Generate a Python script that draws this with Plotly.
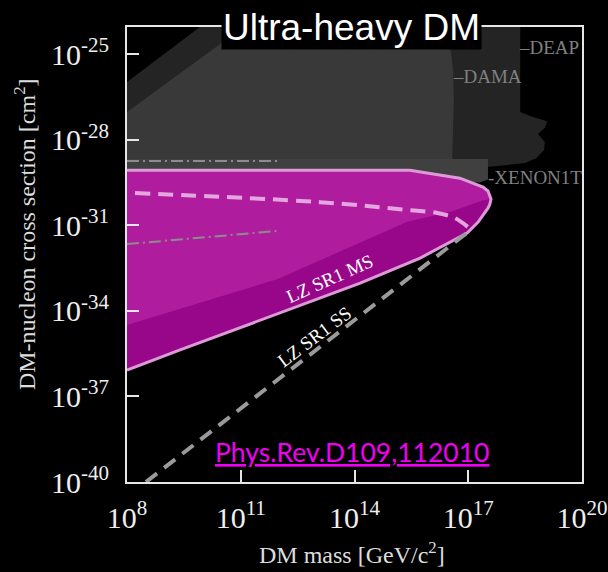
import numpy as np
import plotly.graph_objects as go

# ---- axis ticks (powers of ten) ----
mass_tick_exp = [8, 11, 14, 17, 20]
xsec_tick_exp = [-40, -37, -34, -31, -28, -25]

# ---- exclusion regions: log10(mass / GeV) and log10(sigma / cm^2) ----
deap_log_mass = [8.0, 10.47, 18.37, 18.37, 18.63, 19.08, 19.02, 18.84, 19.02, 19.00, 18.79, 18.50, 17.57, 8.0]
deap_log_xsec = [-25.98, -23.5, -23.5, -27.03, -27.17, -27.35, -27.59, -27.80, -28.08, -28.36, -28.65, -28.82, -28.95, -28.95]

dama_log_mass = [8.0, 11.64, 16.33, 16.39, 16.52, 16.60, 16.62, 16.60, 16.57, 8.0]
dama_log_xsec = [-27.03, -23.5, -23.5, -24.05, -24.68, -25.56, -26.61, -28.01, -28.95, -28.95]

xenon_log_mass = [8.0, 17.52, 17.52, 17.30, 8.0]
xenon_log_xsec = [-28.68, -28.68, -29.40, -29.50, -29.50]

# LZ SR1 multiple-scatter excluded region (outer contour)
ms_log_mass = [8.0, 15.46, 16.78, 17.39, 17.52, 17.60, 17.57, 17.52, 17.26, 16.97, 15.73, 14.15, 9.40, 8.0]
ms_log_xsec = [-29.07, -29.07, -29.35, -29.66, -29.80, -30.08, -30.26, -30.40, -30.89, -31.27, -32.15, -33.03, -35.37, -36.08]

# inner contour separating the upper band of the MS region
ms_inner_log_mass = [17.60, 17.39, 16.60, 15.38, 11.96, 8.0]
ms_inner_log_xsec = [-30.08, -30.12, -30.50, -30.89, -32.89, -34.50]

# LZ SR1 single-scatter limits
ss_upper_log_mass = [8.21, 13.09, 15.46, 16.18, 16.65, 16.99]
ss_upper_log_xsec = [-29.87, -30.19, -30.47, -30.57, -30.75, -31.06]
ss_lower_log_mass = [8.50, 16.99]
ss_lower_log_xsec = [-40.0, -31.24]

# other limits (dash-dot)
dd1_log_mass = [8.0, 11.96]
dd1_log_xsec = [-28.75, -28.75]
dd2_log_mass = [8.0, 11.96]
dd2_log_xsec = [-31.66, -31.20]


def p(v):
    return 10 ** np.array(v, dtype=float)


fig = go.Figure()


def region(lm, lx, color):
    fig.add_trace(go.Scatter(x=p(lm), y=p(lx), mode="lines", fill="toself",
                             fillcolor=color, line=dict(width=0), hoverinfo="skip",
                             showlegend=False))


region(deap_log_mass, deap_log_xsec, "#242424")
region(dama_log_mass, dama_log_xsec, "#393939")
region(xenon_log_mass, xenon_log_xsec, "#404040")

dashdot = dict(color="#8c8c8c", width=2, dash="12px,4px,2px,4px")

fig.add_trace(go.Scatter(x=p(dd1_log_mass), y=p(dd1_log_xsec), mode="lines",
                         line=dashdot, hoverinfo="skip", showlegend=False))

# LZ MS region: lower (darker) fill over full contour, then upper band
region(ms_log_mass, ms_log_xsec, "#98068a")
upper_m = ms_log_mass[:6] + ms_inner_log_mass[1:]
upper_x = ms_log_xsec[:6] + ms_inner_log_xsec[1:]
region(upper_m, upper_x, "#b01c9e")

# dash-dot limit lying inside the MS region
fig.add_trace(go.Scatter(x=p(dd2_log_mass), y=p(dd2_log_xsec), mode="lines",
                         line=dashdot, hoverinfo="skip", showlegend=False))

# MS contour outline
fig.add_trace(go.Scatter(x=p(ms_log_mass), y=p(ms_log_xsec), mode="lines",
                         line=dict(color="#dc9ad6", width=3), hoverinfo="skip",
                         showlegend=False))

# SS limits
fig.add_trace(go.Scatter(x=p(ss_upper_log_mass), y=p(ss_upper_log_xsec), mode="lines",
                         line=dict(color="#e4a6de", width=4, dash="15px,8px", shape="spline"),
                         hoverinfo="skip", showlegend=False))
fig.add_trace(go.Scatter(x=p(ss_lower_log_mass), y=p(ss_lower_log_xsec), mode="lines",
                         line=dict(color="#9a9a9a", width=4, dash="14px,9px"),
                         hoverinfo="skip", showlegend=False))

serif = "Liberation Serif"

axis_common = dict(
    type="log", showgrid=False, zeroline=False, automargin=False,
    showline=True, linecolor="#e6e6e6", linewidth=2, mirror=True,
    ticks="inside", ticklen=12, tickwidth=2, tickcolor="#e6e6e6",
    tickfont=dict(family=serif, size=30, color="#eeeeee"),
    tickmode="array",
)

fig.update_xaxes(range=[8, 20], tickvals=[10.0 ** e for e in mass_tick_exp],
                 ticktext=[f"10<sup>{e}</sup>" for e in mass_tick_exp],
                 ticklabelstandoff=8, **axis_common)
fig.update_yaxes(range=[-40, -24.05], tickvals=[10.0 ** e for e in xsec_tick_exp],
                 ticktext=[f"10<sup>{e}</sup>" for e in xsec_tick_exp],
                 ticklabelstandoff=10, **axis_common)

annotations = [
    dict(text="Ultra-heavy DM", xref="paper", yref="paper", x=0.4945, y=1.0,
         xanchor="center", yanchor="middle", showarrow=False, bgcolor="black",
         borderpad=1, font=dict(family="Liberation Sans", size=37, color="white")),
    dict(text="DM-nucleon cross section [cm<sup>2</sup>]", xref="paper", yref="paper",
         x=-0.224, y=0.545, xanchor="center", yanchor="middle", textangle=-90,
         showarrow=False, font=dict(family=serif, size=24, color="#dddddd")),
    dict(text="DM mass [GeV/c<sup>2</sup>]", xref="paper", yref="paper",
         x=0.4945, y=-0.156, xanchor="center", yanchor="middle", showarrow=False,
         font=dict(family=serif, size=24, color="#dddddd")),
    dict(text="–DEAP", x=18.28, y=-24.77, xanchor="left", showarrow=False,
         font=dict(family=serif, size=19, color="#808080")),
    dict(text="–DAMA", x=16.55, y=-25.79, xanchor="left", showarrow=False,
         font=dict(family=serif, size=19, color="#808080")),
    dict(text="-XENON1T", x=17.47, y=-29.31, xanchor="left", showarrow=False,
         font=dict(family=serif, size=19, color="#808080")),
    dict(text="LZ SR1 MS", x=13.35, y=-32.85, textangle=-24, showarrow=False,
         font=dict(family=serif, size=19, color="white")),
    dict(text="LZ SR1 SS", x=12.95, y=-34.9, textangle=-37, showarrow=False,
         font=dict(family=serif, size=19, color="white")),
    dict(text="<u>Phys.Rev.D109,112010</u>", x=13.93, y=-38.95, showarrow=False,
         font=dict(family="Lato", size=26.5, color="#f000f0")),
]

fig.update_layout(
    width=608, height=572,
    margin=dict(l=127, r=26, t=27, b=90),
    paper_bgcolor="black", plot_bgcolor="black",
    showlegend=False,
    annotations=annotations,
)

fig.write_html("out.html")
